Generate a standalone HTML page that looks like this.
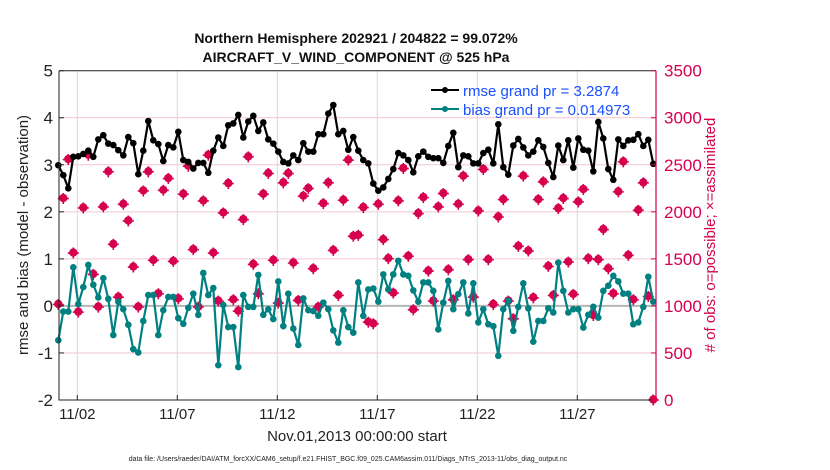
<!DOCTYPE html>
<html><head><meta charset="utf-8"><style>
body{margin:0;background:#fff;}
svg{display:block;font-family:"Liberation Sans",Arial,sans-serif;}
</style></head><body>
<svg id="chart" width="830" height="470" viewBox="0 0 830 470"></svg>
<script>
const rmse=[2.99,2.78,2.5,3.17,3.18,3.23,3.3,3.17,3.54,3.63,3.45,3.42,3.31,3.2,3.59,3.46,2.8,3.3,3.93,3.52,3.44,3.08,3.42,3.37,3.7,3.1,3.06,2.92,3.04,3.04,2.83,3.3,3.58,3.4,3.84,3.88,4.06,3.58,3.92,4.04,3.72,3.9,3.54,3.45,3.28,3.06,3.03,3.2,3.1,3.46,3.28,3.28,3.65,3.65,4.09,4.27,3.65,3.72,3.32,
3.59,3.3,3.1,3.03,2.6,2.45,2.52,2.7,2.91,3.25,3.2,3.1,2.84,3.18,3.28,3.17,3.14,3.14,3.04,3.4,3.68,2.95,3.2,3.18,3.03,3.03,3.25,3.32,3.03,3.86,2.95,2.79,3.41,3.55,3.37,3.2,3.28,3.52,3.38,3.04,2.74,3.41,3.1,3.52,2.94,3.56,3.32,3.3,2.86,3.91,3.56,2.91,2.68,3.54,3.4,3.52,3.53,3.65,3.4,3.53,3.02];
const bias=[-0.73,-0.12,-0.12,0.82,0.04,0.4,0.87,0.45,0.18,0.59,0.15,-0.62,0.09,-0.07,-0.4,-0.92,-0.99,-0.32,0.23,0.23,-0.62,-0.09,0.19,0.19,-0.26,-0.38,-0.04,0.26,-0.19,0.7,0.23,0.38,-1.26,0.02,-0.45,-0.45,-1.3,0.23,-0.02,-0.02,0.66,-0.19,-0.07,-0.28,0.52,-0.43,0.26,-0.48,-0.83,0.16,-0.09,-0.11,-0.21,0.07,-0.07,-0.52,-0.78,-0.09,-0.45,
-0.57,0.5,-0.21,0.35,0.37,0.09,0.67,0.35,0.67,0.96,0.67,0.64,0.33,0.09,0.5,0.5,0.32,-0.5,0.07,0.53,-0.07,0.25,0.5,-0.16,0.48,-0.35,-0.07,-0.39,-0.43,-1.06,-0.07,0.11,-0.53,-0.02,0.48,-0.05,-0.76,-0.32,-0.32,-0.05,-0.14,0.92,0.32,-0.14,-0.07,-0.07,-0.46,-0.19,-0.02,-0.25,0.32,0.43,0.64,0.52,0.26,0.26,-0.39,-0.35,-0.02,0.62,0.09];
const nobs=[1015,2141,2556,1562,934,2041,2602,1335,987,2052,2425,1654,1093,2080,1903,1413,987,2222,2425,1484,1129,2229,2354,1473,1076,2187,2485,1598,987,2116,2602,1562,1051,1988,2300,1065,944,1917,2584,1441,1129,2187,2407,1484,1030,2308,2407,1456,1058,2166,2247,1395,987,2087,2308,1590,1111,2123,2549,
1740,1750,2045,827,809,2080,1704,1502,1136,2116,2460,1527,959,1981,2151,1370,1051,2052,2194,1385,1065,2080,2379,1491,1093,2009,2450,1491,1015,1945,2130,1051,863,1633,2379,1583,1086,2130,2318,1420,1111,2034,2141,1466,1122,2105,2237,1502,898,1491,1811,1395,1129,2212,2531,1537,1065,2016,2308,1100,0];
const leftTicks=[-2,-1,0,1,2,3,4,5];
const rightTicks=[0,500,1000,1500,2000,2500,3000,3500];
const dateTicks=[1,6,11,16,21,26];
const dateLabels=["11/02","11/07","11/12","11/17","11/22","11/27"];

const NS="http://www.w3.org/2000/svg";
const svg=document.getElementById('chart');
const X0=59,X1=656,Y0=70.7,Y1=400;
const xDay=d=>57.3+20*d;
const xIdx=i=>xDay(0.05+i*0.25);
const yL=v=>Y1-(v+2)/7*(Y1-Y0);
const yR=c=>Y1-c/3500*(Y1-Y0);
function el(t,a,p){const e=document.createElementNS(NS,t);for(const k in a)e.setAttribute(k,a[k]);(p||svg).appendChild(e);return e;}

leftTicks.forEach(v=>{if(v>-2&&v<5){const g=el('line',{x1:X0,x2:X1,y1:yL(v),y2:yL(v),stroke:'#f2c6d6','stroke-width':1});

}});
dateTicks.forEach(d=>{const g=el('line',{x1:xDay(d),x2:xDay(d),y1:Y0,y2:Y1,stroke:'#d8d8d8','stroke-width':1});

});
const zl=el('line',{x1:X0,x2:X1,y1:yL(0),y2:yL(0),stroke:'#b4b4b4','stroke-width':2});



nobs.forEach((c,i)=>{const g=el('g',{fill:'#d6004f',stroke:'#d6004f'});


const x=xIdx(i),y=yR(c);
el('circle',{cx:x,cy:y-0.5,r:4.2,'stroke-width':0},g);
el('path',{d:`M${x-5.5} ${y}H${x+5.5}M${x} ${y-5.5}V${y+5.5}`,'stroke-width':1.6,fill:'none'},g);});

function series(arr,color,name){
  const p=el('polyline',{points:arr.map((v,i)=>xIdx(i)+','+yL(v)).join(' '),fill:'none',stroke:color,'stroke-width':2.2,'stroke-linejoin':'round'});
  
  
  arr.forEach((v,i)=>{const c=el('circle',{cx:xIdx(i),cy:yL(v),r:3.3,fill:color});
  
  });
}
series(rmse,'#000','rmse');
series(bias,'#008080','bias');

el('path',{d:`M${X0} ${Y0}V${Y1}H${X1}M${X0} ${Y0}H${X1}`,stroke:'#222',fill:'none','stroke-width':1});
el('line',{x1:X1,x2:X1,y1:Y0,y2:Y1,stroke:'#d6004f','stroke-width':1.2});
leftTicks.forEach(v=>{el('line',{x1:X0,x2:X0+5,y1:yL(v),y2:yL(v),stroke:'#222'});
const t=el('text',{x:X0-6,y:yL(v)+6,'text-anchor':'end','font-size':17,fill:'#222'});t.textContent=v;

});
rightTicks.forEach(c=>{el('line',{x1:X1-5,x2:X1,y1:yR(c),y2:yR(c),stroke:'#d6004f'});
const t=el('text',{x:X1+8,y:yR(c)+6,'font-size':17,fill:'#d6004f'});t.textContent=c;

});
dateTicks.forEach((d,k)=>{el('line',{x1:xDay(d),x2:xDay(d),y1:Y1,y2:Y1-5,stroke:'#222'});
const t=el('text',{x:xDay(d),y:419,'text-anchor':'middle','font-size':15,fill:'#222'});t.textContent=dateLabels[k];

});
</script>
<svg width="830" height="470" style="position:absolute;left:0;top:0">
<text x="356" y="43" text-anchor="middle" font-size="14" font-weight="bold" fill="#111">Northern Hemisphere 202921 / 204822 = 99.072%</text>
<text x="356" y="62" text-anchor="middle" font-size="14" font-weight="bold" fill="#111">AIRCRAFT_V_WIND_COMPONENT @ 525 hPa</text>
<text transform="translate(28,235) rotate(-90)" text-anchor="middle" font-size="15" fill="#222">rmse and bias (model - observation)</text>
<text transform="translate(715,235) rotate(-90)" text-anchor="middle" font-size="15" fill="#d6004f"># of obs: o=possible; ×=assimilated</text>
<text x="357" y="441" text-anchor="middle" font-size="15" fill="#222">Nov.01,2013 00:00:00 start</text>
<text x="348" y="461" text-anchor="middle" font-size="7" fill="#222">data file: /Users/raeder/DAI/ATM_forcXX/CAM6_setup/f.e21.FHIST_BGC.f09_025.CAM6assim.011/Diags_NTrS_2013-11/obs_diag_output.nc</text>
<g>
<line x1="431" y1="90" x2="459" y2="90" stroke="#000" stroke-width="2"/><circle cx="445" cy="90" r="3" fill="#000"/>
<text x="463" y="96" font-size="15" fill="#1a4fff">rmse grand pr = 3.2874</text>
<line x1="431" y1="109" x2="459" y2="109" stroke="#008080" stroke-width="2"/><circle cx="445" cy="109" r="3" fill="#008080"/>
<text x="463" y="115" font-size="15" fill="#1a4fff">bias grand pr = 0.014973</text>
</g>
</svg>
</body></html>
